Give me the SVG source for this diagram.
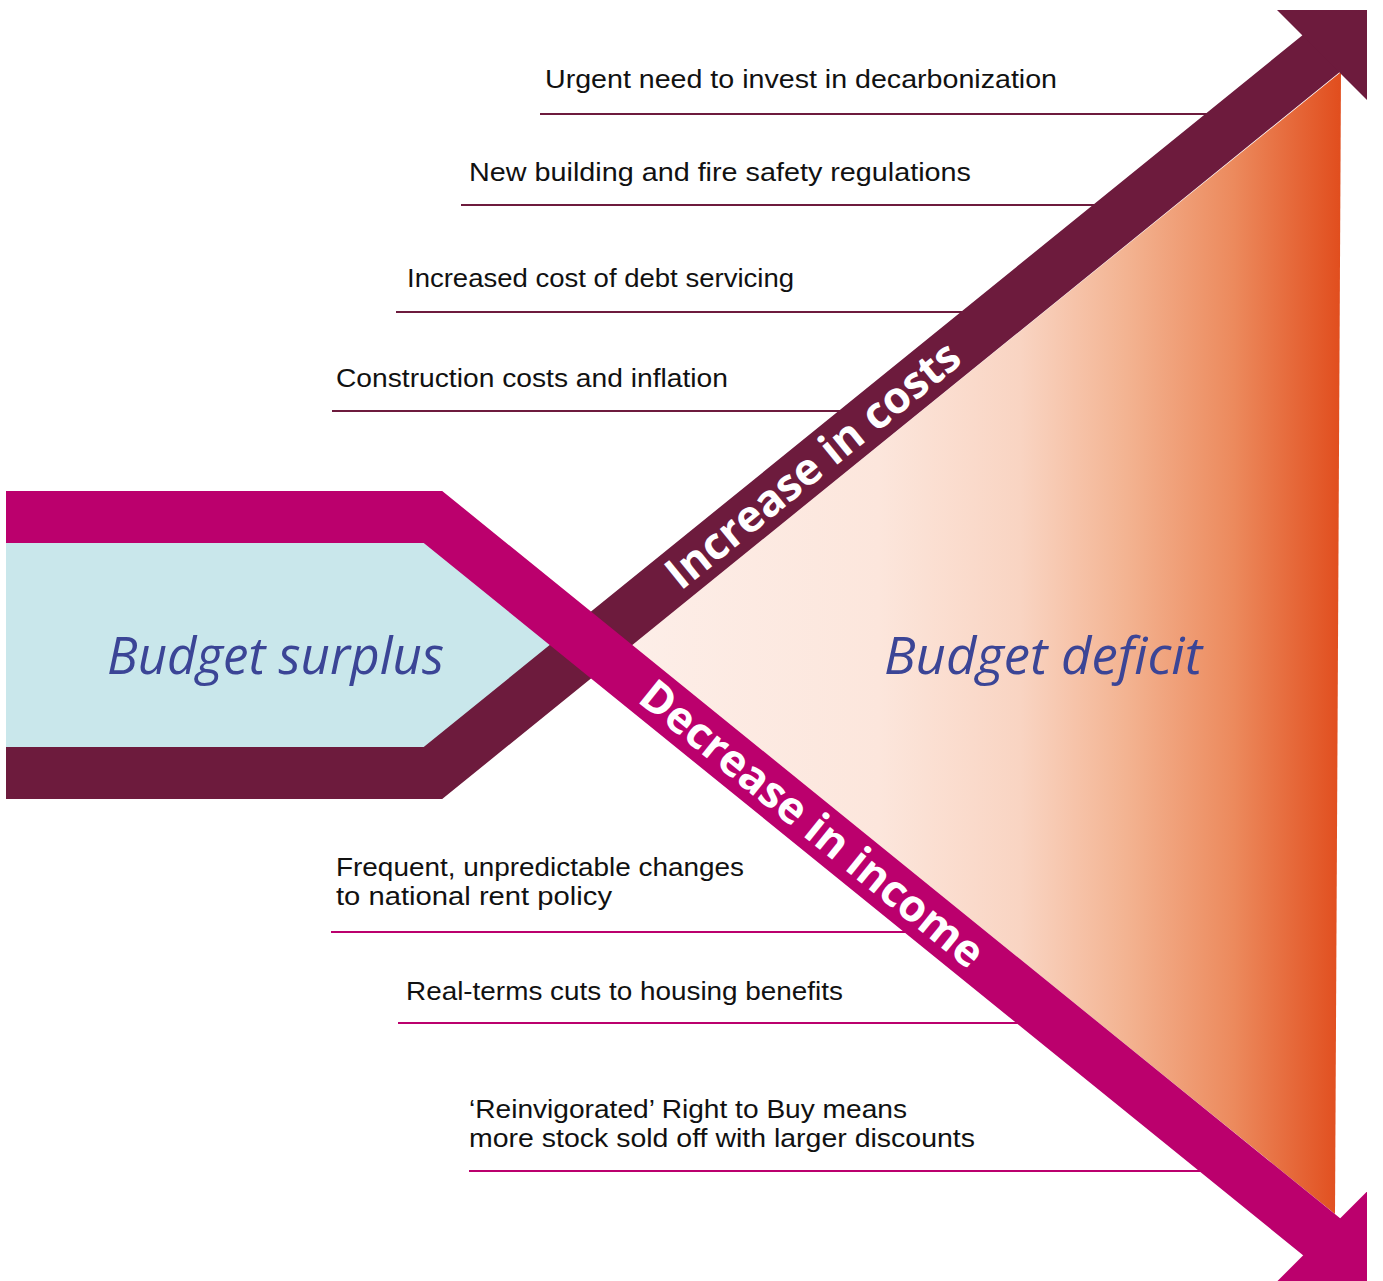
<svg xmlns="http://www.w3.org/2000/svg" width="1383" height="1281" viewBox="0 0 1383 1281">
  <defs>
    <linearGradient id="deficitGrad" gradientUnits="userSpaceOnUse" x1="630" y1="0" x2="1340" y2="0">
      <stop offset="0" stop-color="#FDEEE8"/>
      <stop offset="0.35" stop-color="#FCE6DC"/>
      <stop offset="0.55" stop-color="#F9D4C2"/>
      <stop offset="0.7" stop-color="#F3B391"/>
      <stop offset="0.85" stop-color="#EC8A5D"/>
      <stop offset="1" stop-color="#E14E1E"/>
    </linearGradient>
    <clipPath id="frame">
      <rect x="0" y="10" width="1367" height="1271"/>
    </clipPath>
    <style>
      .label { font-family: "Liberation Sans", "Open Sans", sans-serif; font-size: 25px; fill: #111111; }
      .big { font-family: "Open Sans", "Noto Sans", "Liberation Sans", sans-serif; font-style: italic; font-weight: 400; font-size: 51px; fill: #3B4596; }
      .band-text { font-family: "Open Sans", "Noto Sans", "Liberation Sans", sans-serif; font-weight: bold; font-size: 44px; fill: #FFFFFF; text-anchor: middle; }
      .line-cost { stroke: #6D1B3D; stroke-width: 2.2; fill: none; }
      .line-income { stroke: #BB006D; stroke-width: 2.2; fill: none; }
      .purple { fill: #6D1B3D; }
      .magenta { fill: #BB006D; }
    </style>
  </defs>

  <g id="surplus-area">
    <polygon points="6,543 425,543 552,645 425,747 6,747" fill="#C9E7EB"/>
  </g>
  <g id="deficit-area">
    <polygon points="632,645 1341,72 1335,1214" fill="url(#deficitGrad)"/>
  </g>

  <g id="connectors">
    <line class="line-cost" x1="540" y1="114" x2="1225" y2="114"/>
    <line class="line-cost" x1="461" y1="205" x2="1115" y2="205"/>
    <line class="line-cost" x1="396" y1="312" x2="980" y2="312"/>
    <line class="line-cost" x1="332" y1="411" x2="855" y2="411"/>
    <line class="line-income" x1="331" y1="932" x2="925" y2="932"/>
    <line class="line-income" x1="398" y1="1023" x2="1035" y2="1023"/>
    <line class="line-income" x1="469" y1="1171" x2="1220" y2="1171"/>
  </g>

  <g id="costs-arrow">
    <path d="M6 773 L433 773 L1329 47.2" fill="none" stroke="#6D1B3D" stroke-width="52" stroke-linejoin="miter" stroke-miterlimit="10"/>
    <polygon class="purple" clip-path="url(#frame)" points="1251,-16 1414,-21 1391,124"/>
    <text class="band-text" transform="translate(813 465) rotate(-39)" y="15">Increase in costs</text>
  </g>

  <g id="income-arrow">
    <path d="M6 517 L433 517 L1329 1242.8" fill="none" stroke="#BB006D" stroke-width="52" stroke-linejoin="miter" stroke-miterlimit="10"/>
    <polygon class="magenta" clip-path="url(#frame)" points="1391.5,1167 1415,1312 1251.5,1307"/>
    <text class="band-text" transform="translate(812 824) rotate(39)" y="15">Decrease in income</text>
  </g>

  <g id="budget-surplus">
    <text class="big" x="107" y="674" textLength="337" lengthAdjust="spacingAndGlyphs">Budget surplus</text>
  </g>
  <g id="budget-deficit">
    <text class="big" x="884" y="674" textLength="318" lengthAdjust="spacingAndGlyphs">Budget deficit</text>
  </g>

  <g id="label-decarbonization"><text class="label" x="545" y="88" textLength="512" lengthAdjust="spacingAndGlyphs">Urgent need to invest in decarbonization</text></g>
  <g id="label-regulations"><text class="label" x="469" y="181" textLength="502" lengthAdjust="spacingAndGlyphs">New building and fire safety regulations</text></g>
  <g id="label-debt"><text class="label" x="407" y="287" textLength="387" lengthAdjust="spacingAndGlyphs">Increased cost of debt servicing</text></g>
  <g id="label-construction"><text class="label" x="336" y="387" textLength="392" lengthAdjust="spacingAndGlyphs">Construction costs and inflation</text></g>
  <g id="label-rent">
    <text class="label" x="336" y="876" textLength="408" lengthAdjust="spacingAndGlyphs">Frequent, unpredictable changes</text>
    <text class="label" x="336" y="905" textLength="276" lengthAdjust="spacingAndGlyphs">to national rent policy</text>
  </g>
  <g id="label-benefits"><text class="label" x="406" y="1000" textLength="437" lengthAdjust="spacingAndGlyphs">Real-terms cuts to housing benefits</text></g>
  <g id="label-rtb">
    <text class="label" x="469" y="1118" textLength="438" lengthAdjust="spacingAndGlyphs">‘Reinvigorated’ Right to Buy means</text>
    <text class="label" x="469" y="1147" textLength="506" lengthAdjust="spacingAndGlyphs">more stock sold off with larger discounts</text>
  </g>
</svg>
